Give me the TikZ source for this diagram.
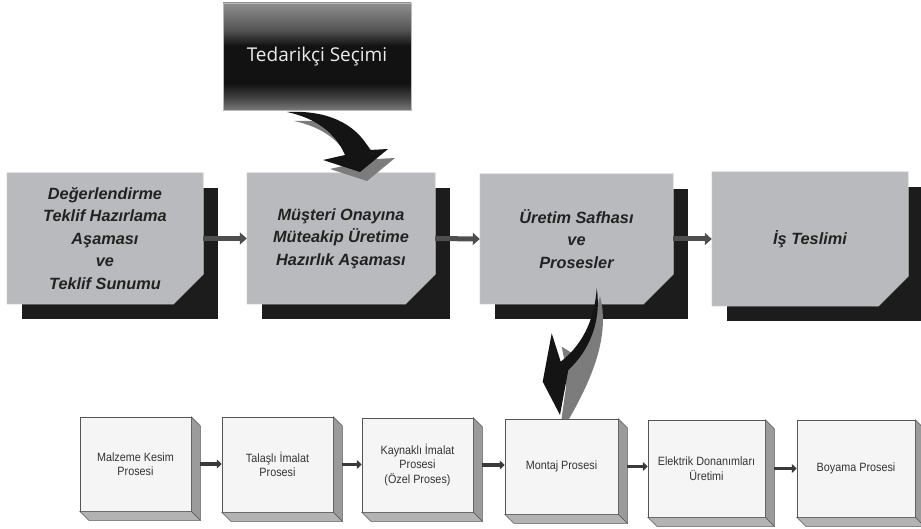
\documentclass[tikz,border=0pt]{standalone}
\usepackage{fontspec}
\setmainfont{Liberation Sans}
\newfontfamily\supplierfont{Open Sans}
\newfontfamily\procfont[FakeStretch=0.9]{Liberation Sans}
\usetikzlibrary{arrows.meta,backgrounds,calc}

\definecolor{boxgray}{HTML}{B9BABD}
\definecolor{boxedge}{HTML}{D2D3D5}
\definecolor{shadowblack}{HTML}{1C1C1C}
\definecolor{linkgray}{HTML}{4E4E4E}
\definecolor{textdark}{HTML}{222222}
\definecolor{facefront}{HTML}{F5F5F5}
\definecolor{faceside}{HTML}{9B9B9B}
\definecolor{facebottom}{HTML}{B3B3B3}
\definecolor{faceedge}{HTML}{555555}
\definecolor{textsmall}{HTML}{333333}
\definecolor{smalllinkgray}{HTML}{3A3A3A}
\definecolor{curveblack}{HTML}{141414}
\definecolor{curvegray}{HTML}{7C7C7C}

% dark band in the middle, lighter grey at top and bottom
\pgfdeclareverticalshading{supplierfade}{100bp}{%
  rgb(0bp)=(.47,.47,.47); rgb(25bp)=(.47,.47,.47);
  rgb(31bp)=(.25,.25,.25); rgb(37.5bp)=(.07,.07,.07);
  rgb(55bp)=(.07,.07,.07); rgb(62.5bp)=(.33,.33,.33);
  rgb(75bp)=(.56,.56,.56); rgb(100bp)=(.56,.56,.56)}

% black drop shadow behind a stage box
\newcommand\stageshadow[1]{%
  \begin{pgfonlayer}{background}
    \fill[shadowblack] ([shift={(15,15)}]#1.north west) rectangle ([shift={(15,15)}]#1.south east);
  \end{pgfonlayer}}
% outline of a stage box with its cut lower right corner
\newcommand\stageoutline[1]{%
  \draw[boxedge, line width=0.6pt] (#1.south west) -- (#1.north west) -- (#1.north east)
    -- ([yshift=30pt]#1.south east) -- ([xshift=-30pt]#1.south east) -- cycle;}
% side and bottom faces of a process block
\newcommand\extrude[1]{%
  \filldraw[fill=faceside, draw=faceedge, line width=0.5pt]
    (#1.north east) -- ++(9,9) -- ([shift={(9,9)}]#1.south east) -- (#1.south east) -- cycle;
  \filldraw[fill=facebottom, draw=faceedge, line width=0.5pt]
    (#1.south west) -- (#1.south east) -- ([shift={(9,9)}]#1.south east) -- ([shift={(9,9)}]#1.south west) -- cycle;}

\begin{document}
\begin{tikzpicture}[x=1pt, y=-1pt,
  supplier/.style={rectangle, minimum width=188pt, minimum height=107pt, inner sep=0pt,
    shading=supplierfade, draw=gray!55, line width=0.4pt, text=white!92!black,
    font=\supplierfont\fontsize{19}{22}\selectfont},
  stage/.style={rectangle, fill=boxgray, minimum height=131pt, inner sep=0pt, align=center,
    text=textdark, font=\bfseries\itshape\fontsize{16.3}{22.5}\selectfont,
    path picture={\fill[shadowblack] ([xshift=-30pt]path picture bounding box.south east)
      -- ([yshift=30pt]path picture bounding box.south east)
      -- (path picture bounding box.south east) -- cycle;}},
  proc/.style={rectangle, draw=faceedge, line width=0.5pt, fill=facefront, inner sep=0pt,
    align=center, text=textsmall, font=\procfont\fontsize{12}{14.5}\selectfont},
  biglink/.style={draw=linkgray, line width=5pt, -{Triangle[length=7pt, width=12pt]}},
  smalllink/.style={draw=smalllinkgray, line width=3.5pt, -{Triangle[length=5pt, width=9pt]}},
  curvebody/.style={fill=curveblack},
  curveshade/.style={fill=curvegray}]

\useasboundingbox (0,0) rectangle (921,529);

% supplier selection
\node[supplier] (sup) at (317,56.5) {Tedarikçi Seçimi};

% main stages
\node[stage, minimum width=196pt] (s1) at (105,238.5)
  {Değerlendirme\\Teklif Hazırlama\\Aşaması\\ve\\Teklif Sunumu};
\node[stage, minimum width=188pt] (s2) at (341,238.5)
  {Müşteri Onayına\\Müteakip Üretime\\Hazırlık Aşaması};
\node[stage, minimum width=193pt, minimum height=130pt] (s3) at (576.5,239)
  {Üretim Safhası\\ve\\Prosesler};
\node[stage, minimum width=196pt, minimum height=134pt] (s4) at (810,239)
  {İş Teslimi};

\foreach \s in {s1,s2,s3,s4} {\stageshadow{\s}\stageoutline{\s}}

\draw[biglink] (s1.east) -- (s2.west);
\draw[biglink] (s2.east) -- (s3.west);
\draw[biglink] (s3.east) -- (s4.west);

% production processes
\node[proc, minimum width=111pt, minimum height=94pt] (p1) at (135.5,464) {Malzeme Kesim\\Prosesi};
\node[proc, minimum width=111pt, minimum height=95pt] (p2) at (277.5,464.5) {Talaşlı İmalat\\Prosesi};
\node[proc, minimum width=111pt, minimum height=94pt] (p3) at (417.5,465) {Kaynaklı İmalat\\Prosesi\\(Özel Proses)};
\node[proc, minimum width=113pt, minimum height=95pt] (p4) at (561.5,466.5) {Montaj Prosesi};
\node[proc, minimum width=117pt, minimum height=97pt] (p5) at (706.5,468.5) {Elektrik Donanımları\\Üretimi};
\node[proc, minimum width=118pt, minimum height=97pt] (p6) at (856,468.5) {Boyama Prosesi};

\foreach \p in {p1,p2,p3,p4,p5,p6} {\extrude{\p}}

\draw[smalllink] ([xshift=9pt]p1.east) -- (p1.east -| p2.west);
\draw[smalllink] ([xshift=9pt]p2.east) -- (p2.east -| p3.west);
\draw[smalllink] ([xshift=9pt]p3.east) -- (p3.east -| p4.west);
\draw[smalllink] ([xshift=9pt]p4.east) -- (p4.east -| p5.west);
\draw[smalllink] ([xshift=9pt]p5.east) -- (p5.east -| p6.west);

% swept arrow from supplier selection onto the second stage
\fill[curveshade, shift={(7,9)}] (287,112) .. controls (325,110) and (355,122) .. (370,150)
  -- (388,149) -- (360,172) -- (323,160) -- (345,155)
  .. controls (335,132) and (315,118) .. (287,112) -- cycle;
\fill[curvebody] (287,112) .. controls (325,110) and (355,122) .. (370,150)
  -- (388,149) -- (360,172) -- (323,160) -- (345,155)
  .. controls (335,132) and (315,118) .. (287,112) -- cycle;

% swept arrow from the production stage down to assembly
\fill[curveshade] (600,296) .. controls (610,335) and (593,377) .. (569,419)
  -- (561.5,419) -- (566,387) -- (565,363) -- (561.7,346.7) -- (572,353) -- (592,328) -- cycle;
\fill[curvebody] (596.7,288.3) .. controls (601.7,320) and (590,350) .. (568.3,370)
  -- (560,415) -- (542.7,381.7) -- (551.7,333.3) -- (560.7,361.7)
  .. controls (580,346.7) and (594.3,323.3) .. (596.7,288.3) -- cycle;
\end{tikzpicture}
\end{document}
